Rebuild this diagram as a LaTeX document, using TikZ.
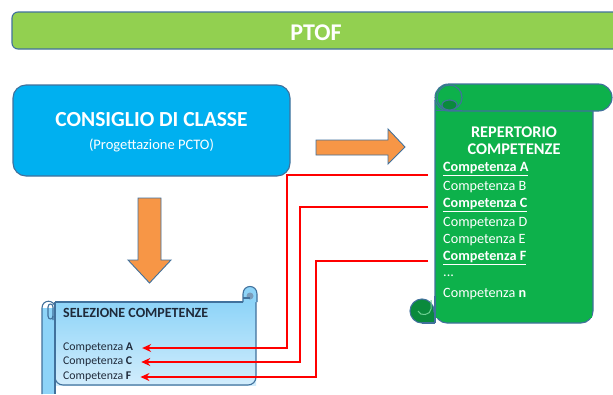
\documentclass[tikz,border=0pt]{standalone}
\usepackage{fontspec}
\setmainfont{Carlito}
\usetikzlibrary{arrows.meta}
\definecolor{ptofgreen}{HTML}{92D050}
\definecolor{edgeblue}{HTML}{41719C}
\definecolor{ccblue}{HTML}{00B0F0}
\definecolor{arrorange}{HTML}{F79646}
\definecolor{scrollgreen}{HTML}{0DB14B}
\definecolor{scrolldark}{HTML}{0A8A3C}
\definecolor{seltop}{HTML}{8ED4F8}
\definecolor{selbot}{HTML}{D2EDFC}
\definecolor{seltext}{HTML}{1F2A3A}
\tikzset{
  edge/.style={draw=edgeblue, line width=1.1pt},
  bigarrow/.style={edge, fill=arrorange, line width=0.9pt, line join=miter},
  reptext/.style={text=white, font=\fontsize{14.2}{16}\selectfont, anchor=west, inner sep=0pt},
  seltextstyle/.style={text=seltext, font=\fontsize{11.8}{13}\selectfont, anchor=west, inner sep=0pt},
  redline/.style={draw=red, line width=1.4pt, -{Stealth[length=9pt,width=8pt]}},
}
\begin{document}
\begin{tikzpicture}[x=1pt,y=-1pt]
\useasboundingbox (0,0) rectangle (613,394);
\fill[white] (0,0) rectangle (613,394);

% PTOF bar
\draw[edge, fill=ptofgreen, rounded corners=6pt] (12,12) rectangle (630,49);
\node[text=white, font=\bfseries\fontsize{24}{26}\selectfont] (ptof) at (316,33) {PTOF};

% Consiglio di classe
\node[edge, fill=ccblue, rounded corners=13pt, minimum width=277pt, minimum height=91pt,
      inner sep=0pt] (cdc) at (151.5,130.5) {};
\node[text=white, font=\bfseries\fontsize{21.5}{23}\selectfont] (cdct) at (151.5,120) {CONSIGLIO DI CLASSE};
\node[text=white, font=\fontsize{14.5}{16}\selectfont] (cdcs) at (151.5,145) {(Progettazione PCTO)};

% orange right arrow
\draw[bigarrow] (316,140) -- (388,140) -- (388,129) -- (405,147) -- (388,164) -- (388,155) -- (316,155) -- cycle;
% orange down arrow
\draw[bigarrow] (138,198) -- (161,198) -- (161,260) -- (171,260) -- (149.5,283) -- (128,260) -- (138,260) -- cycle;

% Green vertical scroll (Repertorio)
\draw[edge, fill=scrollgreen, rounded corners=12pt] (435,100) -- (435,323) -- (593,323) -- (593,100);
\fill[scrollgreen] (436,100) rectangle (592,318);
\draw[edge, fill=scrollgreen, rounded corners=13.5pt] (435,84) rectangle (612,111);
% top curl
\draw[edge, fill=scrollgreen] (449.5,97.5) circle (12.5pt);
\draw[edge, fill=scrolldark] (449.5,105) ellipse (7.5pt and 5pt);
\draw[edge] (436,110.5) -- (462,110.5);
% bottom curl
\draw[edge, fill=scrolldark] (422,311) circle (12pt);
\fill[scrolldark] (422,323) -- (435,323) -- (435,311) -- cycle;
\draw[edge] (422,323) -- (435,323);
\draw[edge] (435,296) -- (435,323);
\draw[draw=scrollgreen!60!white, line width=1pt] (431,300) -- (431,309) .. controls (431,315) and (420,317) .. (418,311);

% Repertorio texts
\node[text=white, font=\bfseries\fontsize{16.3}{18}\selectfont, align=center] (rtitle) at (514,141) {REPERTORIO\\[-1pt]COMPETENZE};
\node[reptext] (rA) at (443,169) {\underline{\bfseries Competenza A}};
\node[reptext] (rB) at (443,187) {Competenza B};
\node[reptext] (rC) at (443,205) {\underline{\bfseries Competenza C}};
\node[reptext] (rD) at (443,223) {Competenza D};
\node[reptext] (rE) at (443,240) {Competenza E};
\node[reptext] (rF) at (443,258) {\underline{\bfseries Competenza F}};
\node[reptext] (rdots) at (443,276) {...};
\node[reptext] (rn) at (443,294) {Competenza \textbf{n}};

% Selection horizontal scroll
\shade[top color=seltop, bottom color=selbot] (55,302) rectangle (256,385);
\draw[edge, rounded corners=8pt] (55,302) -- (55,385) -- (256,385) -- (256,298);
\draw[edge] (55,302) -- (243,302);
% top-right roll
\draw[edge, fill=seltop] (243,302) -- (243,294) .. controls (243,284) and (257,284) .. (257,294) -- (257,302);
\fill[edgeblue!70] (250,296) circle (3.5pt);
\draw[edge] (243,298) -- (250,298);
% left roll
\fill[seltop] (42,308) rectangle (55,394);
\draw[edge] (42,394) -- (42,308) .. controls (42,299) and (55,299) .. (55,308);
\draw[edge] (55,302) -- (55,394);
\draw[edge] (48,316) -- (48,307) .. controls (48,303) and (53,303) .. (53,307) -- (53,316) -- (53,320);
\draw[edge] (48,316) .. controls (48,320) and (53,320) .. (53,316);

\node[text=seltext, font=\bfseries\fontsize{14}{16}\selectfont, anchor=west, inner sep=0pt] (stitle) at (63,313) {SELEZIONE COMPETENZE};
\node[seltextstyle] (sA) at (63,348) {Competenza \textbf{A}};
\node[seltextstyle] (sC) at (63,362) {Competenza \textbf{C}};
\node[seltextstyle] (sF) at (63,377) {Competenza \textbf{F}};

% red connectors
\coordinate (eA) at (428,175);
\coordinate (eC) at (428,207);
\coordinate (eF) at (428,261);
\coordinate (kA) at (287,175);
\coordinate (kC) at (300,207);
\coordinate (kF) at (316,261);
\draw[redline] (eA) -- (kA) |- ([xshift=9pt]sA.east);
\draw[redline] (eC) -- (kC) |- ([xshift=9pt]sC.east);
\draw[redline] (eF) -- (kF) |- ([xshift=9pt]sF.east);
\end{tikzpicture}
\end{document}
